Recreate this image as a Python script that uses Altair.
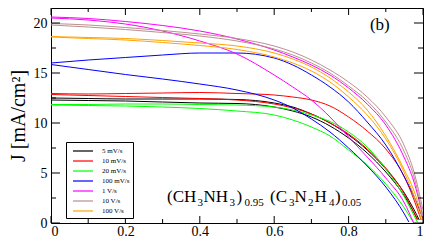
import altair as alt
import pandas as pd

SERIF = "Liberation Serif"

rates = ["5 mV/s", "10 mV/s", "20 mV/s", "100 mV/s", "1 V/s", "10 V/s", "100 V/s"]
colors = ["#000000", "#ff0000", "#00ff00", "#0000ff", "#ff00ff", "#bc8f8f", "#ffa500"]

grid = [0, 0.1, 0.2, 0.3, 0.4, 0.5, 0.6, 0.65, 0.7, 0.75, 0.8, 0.85, 0.9, 0.95]

# 5 mV/s (black)
v_black_a = grid + [0.975, 0.99]
j_black_a = [12.5, 12.45, 12.4, 12.4, 12.4, 12.35, 12.0, 11.6, 10.9, 10.0, 8.8, 7.3, 5.4, 3.0, 1.4, 0.3]
v_black_b = grid + [0.985]
j_black_b = [12.3, 12.25, 12.2, 12.1, 12.0, 11.95, 11.6, 11.2, 10.6, 9.7, 8.5, 7.0, 5.1, 2.7, 0.4]
# 10 mV/s (red)
v_red_a = grid + [0.975, 0.995]
j_red_a = [12.95, 12.9, 12.95, 13.0, 13.05, 12.95, 12.8, 12.6, 12.3, 11.7, 10.6, 9.2, 7.4, 4.6, 2.4, 0.3]
v_red_b = grid + [0.985]
j_red_b = [12.85, 12.75, 12.65, 12.55, 12.45, 12.3, 11.9, 11.5, 10.9, 10.0, 8.9, 7.4, 5.5, 2.9, 0.3]
# 20 mV/s (green)
v_green_a = grid + [0.975, 0.985]
j_green_a = [11.85, 11.85, 11.9, 11.9, 11.85, 11.8, 11.6, 11.3, 10.8, 10.15, 9.1, 7.6, 5.4, 2.6, 0.8, 0.1]
v_green_b = grid + [0.975]
j_green_b = [11.8, 11.75, 11.7, 11.6, 11.45, 11.2, 10.8, 10.3, 9.6, 8.7, 7.3, 5.8, 3.9, 1.5, 0.0]
# 100 mV/s (blue)
v_blue_a = grid + [0.98, 1.0]
j_blue_a = [16.0, 16.3, 16.55, 16.8, 17.0, 17.0, 16.5, 15.8, 14.8, 13.6, 12.1, 10.1, 7.8, 4.6, 2.3, 0.4]
v_blue_b = grid + [0.962]
j_blue_b = [15.85, 15.35, 14.85, 14.4, 13.9, 13.3, 12.3, 11.5, 10.4, 9.1, 7.5, 5.7, 3.6, 0.9, 0.1]
# 1 V/s (magenta)
v_mag_a = grid + [0.975]
j_mag_a = [20.5, 20.3, 19.9, 19.2, 18.2, 16.9, 14.8, 13.6, 12.3, 10.6, 8.6, 6.6, 4.5, 2.0, 0.0]
v_mag_b = grid + [0.975, 1.0]
j_mag_b = [20.6, 20.45, 20.15, 19.75, 19.2, 18.4, 17.3, 16.6, 15.8, 14.8, 13.5, 11.9, 9.8, 6.5, 4.2, 0.6]
# 10 V/s (brown)
v_brown_a = grid + [0.975, 1.0]
j_brown_a = [19.95, 19.8, 19.55, 19.25, 18.9, 18.45, 17.7, 17.1, 16.3, 15.3, 14.1, 12.6, 10.6, 7.7, 5.2, 1.3]
v_brown_b = grid + [0.975, 1.0]
j_brown_b = [19.8, 19.6, 19.35, 19.05, 18.7, 18.2, 17.4, 16.8, 16.0, 15.0, 13.7, 12.2, 10.1, 7.1, 4.7, 0.7]
# 100 V/s (orange)
v_orange_a = grid + [0.975, 1.0]
j_orange_a = [18.65, 18.55, 18.45, 18.25, 18.0, 17.7, 17.0, 16.4, 15.6, 14.5, 13.1, 11.3, 8.7, 5.3, 3.3, 0.3]
v_orange_b = grid + [0.975, 0.995]
j_orange_b = [18.6, 18.45, 18.3, 18.05, 17.75, 17.35, 16.6, 16.0, 15.2, 14.1, 12.6, 10.8, 8.4, 5.0, 2.8, 0.4]

x_major = [0, 0.2, 0.4, 0.6, 0.8, 1.0]
x_minor = [0.1, 0.3, 0.5, 0.7, 0.9]
y_major = [0, 5, 10, 15, 20]
y_minor = [2.5, 7.5, 12.5, 17.5]

curves = [
    ("5 mV/s", "a", v_black_a, j_black_a), ("5 mV/s", "b", v_black_b, j_black_b),
    ("10 mV/s", "a", v_red_a, j_red_a), ("10 mV/s", "b", v_red_b, j_red_b),
    ("20 mV/s", "a", v_green_a, j_green_a), ("20 mV/s", "b", v_green_b, j_green_b),
    ("100 mV/s", "a", v_blue_a, j_blue_a), ("100 mV/s", "b", v_blue_b, j_blue_b),
    ("1 V/s", "a", v_mag_a, j_mag_a), ("1 V/s", "b", v_mag_b, j_mag_b),
    ("10 V/s", "a", v_brown_a, j_brown_a), ("10 V/s", "b", v_brown_b, j_brown_b),
    ("100 V/s", "a", v_orange_a, j_orange_a), ("100 V/s", "b", v_orange_b, j_orange_b),
]
rows = []
for rate, scan, vs, js in curves:
    for i, (v, j) in enumerate(zip(vs, js)):
        rows.append({"rate": rate, "scan": rate + scan, "V": v, "J": j, "i": i})
df = pd.DataFrame(rows)

W, H = 372, 215
xs = alt.Scale(domain=[0, 1], nice=False, zero=False)
ys = alt.Scale(domain=[0, 21.5], nice=False, zero=False)

lines = alt.Chart(df).mark_line(strokeWidth=1, clip=True, interpolate="monotone").encode(
    x=alt.X("V:Q", scale=xs, axis=alt.Axis(orient="bottom", values=x_major, format="~g", ticks=False,
                                          domain=False, grid=False, labelPadding=1, title=None)),
    y=alt.Y("J:Q", scale=ys, axis=alt.Axis(orient="left", values=y_major, ticks=False, domain=False,
                                          grid=False, labelPadding=4, title="J [mA/cm²]",
                                          titleFontSize=20, titleFont=SERIF, titleFontWeight="normal",
                                          titleX=-33, titleY=H / 2, titleAngle=270, titleAlign="center",
                                          titleBaseline="middle")),
    color=alt.Color("rate:N", scale=alt.Scale(domain=rates, range=colors),
                    legend=alt.Legend(title=None, orient="none", legendX=15, legendY=134,
                                      fillColor="white", strokeColor="black", padding=3,
                                      symbolType="M-2,0H2", symbolSize=100, symbolStrokeWidth=2,
                                      symbolOpacity=0.6, symbolOffset=8, labelFont=SERIF,
                                      labelFontSize=7, labelOffset=13, rowPadding=0)),
    detail="scan:N",
    order="i:Q",
)


def xticks(vals, y0, y1):
    return alt.Chart(pd.DataFrame({"V": vals})).mark_rule(color="black", strokeWidth=1).encode(
        x=alt.X("V:Q", scale=xs, axis=None), y=alt.value(y0), y2=alt.value(y1))


def yticks(vals, x0, x1):
    return alt.Chart(pd.DataFrame({"J": vals})).mark_rule(color="black", strokeWidth=1).encode(
        y=alt.Y("J:Q", scale=ys, axis=None), x=alt.value(x0), x2=alt.value(x1))


ticks = [
    xticks(x_major, H, H - 7), xticks(x_minor, H, H - 4),
    xticks(x_major, 0, 7), xticks(x_minor, 0, 4),
    yticks(y_major, 0, 9), yticks(y_minor, 0, 5),
    yticks(y_major, W, W - 9), yticks(y_minor, W, W - 5),
]

# annotation segments: text, pixel offset from anchor, font size, baseline shift
ann_v, ann_j = 0.312, 2.13
ann_text = ["(CH", "3", "NH", "3", ")", "0.95", "(C", "3", "N", "2", "H", "4", ")", "0.05"]
ann_dx = [0, 30.5, 36.5, 62.5, 69.5, 77.5, 103, 122, 127.5, 141, 147.5, 162, 168, 175]
ann_size = [17, 11, 17, 11, 17, 11, 17, 11, 17, 11, 17, 11, 17, 11]
ann_dy = [0, 4, 0, 4, 0, 4, 0, 4, 0, 4, 0, 4, 0, 4]

ann_df = pd.DataFrame({"V": [ann_v], "J": [ann_j]})
ann_layers = []
for t, dx, s, dy in zip(ann_text, ann_dx, ann_size, ann_dy):
    ann_layers.append(
        alt.Chart(ann_df).mark_text(text=t, dx=dx, dy=dy, align="left", baseline="alphabetic",
                                    fontSize=s, font=SERIF, color="black").encode(
            x=alt.X("V:Q", scale=xs, axis=None), y=alt.Y("J:Q", scale=ys, axis=None))
    )

label_df = pd.DataFrame({"V": [0.884], "J": [19.3], "t": ["(b)"]})
label_b = alt.Chart(label_df).mark_text(align="center", baseline="alphabetic", fontSize=17, font=SERIF,
                                        color="black").encode(
    x=alt.X("V:Q", scale=xs, axis=None), y=alt.Y("J:Q", scale=ys, axis=None), text="t:N")

chart = alt.layer(lines, *ticks, *ann_layers, label_b).resolve_axis(
    x="independent", y="independent"
).properties(
    width=W, height=H,
    autosize=alt.AutoSizeParams(type="none"),
    padding={"left": 43, "top": 0, "right": 5, "bottom": 15},
).configure_view(stroke="black", strokeWidth=1).configure_axis(
    labelFont=SERIF, labelFontSize=14, labelColor="black", titleColor="black"
)

chart.save("out.html", embed_options={"renderer": "svg", "actions": False})
